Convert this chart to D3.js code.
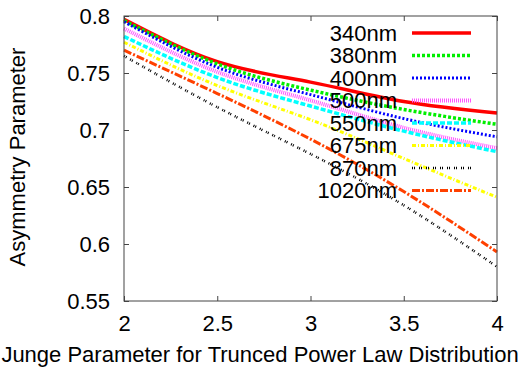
<!DOCTYPE html>
<html>
<head>
<meta charset="utf-8">
<style>
  * { margin:0; padding:0 }
  body { background:#fff; overflow:hidden; }
  svg text { font-family: "Liberation Sans", Arial, sans-serif; fill:#000; }
</style>
<script src="https://cdn.jsdelivr.net/npm/d3@7"></script>
</head>
<body>
<script>
var width = 528, height = 371;
var margin = {top: 16, right: 31, bottom: 70, left: 124};

// junge parameter
var xs = [2, 2.5, 3, 3.5, 4];
var labels = ["340nm", "380nm", "400nm", "500nm", "550nm", "675nm", "870nm", "1020nm"];
var g340  = [0.797, 0.760, 0.742, 0.725, 0.715];
var g380  = [0.796, 0.758, 0.735, 0.718, 0.705];
var g400  = [0.795, 0.755, 0.731, 0.710, 0.694];
var g500  = [0.789, 0.751, 0.726, 0.702, 0.684];
var g550  = [0.782, 0.746, 0.721, 0.699, 0.681];
var g675  = [0.777, 0.739, 0.709, 0.675, 0.641];
var g870  = [0.765, 0.720, 0.679, 0.634, 0.580];
var g1020 = [0.770, 0.732, 0.692, 0.646, 0.593];
var xTicks = [2, 2.5, 3, 3.5, 4];
var yTicks = [0.55, 0.6, 0.65, 0.7, 0.75, 0.8];

var series = [
  {name: labels[0], vals: g340,  color: "#ff0000", dash: null,      w: 3.5},
  {name: labels[1], vals: g380,  color: "#00ee00", dash: "3,2",     w: 3.5},
  {name: labels[2], vals: g400,  color: "#0000ff", dash: "2,2",     w: 3},
  {name: labels[3], vals: g500,  color: "#ff55ff", dash: "1,1",     w: 4},
  {name: labels[4], vals: g550,  color: "#00ffff", dash: "5,2",     w: 3.5},
  {name: labels[5], vals: g675,  color: "#ffff00", dash: "4,2,1,2", w: 3},
  {name: labels[6], vals: g870,  color: "#000000", dash: "1,1,1,4", w: 2.5},
  {name: labels[7], vals: g1020, color: "#ff4000", dash: "8,2,2,2", w: 3}
];

var svg = d3.select("body").append("svg")
    .attr("width", width)
    .attr("height", height);

var x = d3.scaleLinear().domain([2, 4]).range([margin.left, width - margin.right]);
var y = d3.scaleLinear().domain([0.55, 0.8]).range([height - margin.bottom, margin.top]);

var line = d3.line()
    .x(function(d, i) { return x(xs[i]); })
    .y(function(d) { return y(d); })
    .curve(d3.curveNatural);

// data lines
svg.append("g").selectAll("path")
    .data(series)
  .enter().append("path")
    .attr("d", function(d) { return line(d.vals); })
    .attr("fill", "none")
    .attr("stroke", function(d) { return d.color; })
    .attr("stroke-width", function(d) { return d.w; })
    .attr("stroke-dasharray", function(d) { return d.dash; });

// frame + ticks (inward on all sides)
var axCol = "#444";
svg.append("g")
    .attr("transform", "translate(0," + y.range()[0] + ")")
    .call(d3.axisBottom(x).tickValues(xTicks).tickSize(-5).tickPadding(14).tickFormat(d3.format("")))
    .call(function(g) { g.select(".domain").remove(); });
svg.append("g")
    .attr("transform", "translate(0," + y.range()[1] + ")")
    .call(d3.axisTop(x).tickValues(xTicks).tickSize(-5).tickFormat(""))
    .call(function(g) { g.select(".domain").remove(); });
svg.append("g")
    .attr("transform", "translate(" + x.range()[0] + ",0)")
    .call(d3.axisLeft(y).tickValues(yTicks).tickSize(-5).tickPadding(14).tickFormat(d3.format("")))
    .call(function(g) { g.select(".domain").remove(); });
svg.append("g")
    .attr("transform", "translate(" + x.range()[1] + ",0)")
    .call(d3.axisRight(y).tickValues(yTicks).tickSize(-5).tickFormat(""))
    .call(function(g) { g.select(".domain").remove(); });

svg.selectAll(".tick line").attr("stroke", axCol);
svg.selectAll(".tick text").attr("font-size", 22).attr("fill", "#000")
    .attr("font-family", "Liberation Sans, Arial, sans-serif");

svg.append("rect")
    .attr("x", x.range()[0]).attr("y", y.range()[1])
    .attr("width", x.range()[1] - x.range()[0])
    .attr("height", y.range()[0] - y.range()[1])
    .attr("fill", "none").attr("stroke", axCol).attr("stroke-width", 1);

// legend
var leg = svg.append("g").selectAll("g")
    .data(series)
  .enter().append("g")
    .attr("transform", function(d, i) { return "translate(0," + (33 + i * 22.5) + ")"; });
leg.append("text")
    .attr("x", 397).attr("dy", "0.35em")
    .attr("text-anchor", "end")
    .attr("font-size", 22)
    .text(function(d) { return d.name; });
leg.append("line")
    .attr("x1", 412).attr("x2", 471)
    .attr("stroke", function(d) { return d.color; })
    .attr("stroke-width", function(d) { return d.w; })
    .attr("stroke-dasharray", function(d) { return d.dash; });

// axis titles
svg.append("text")
    .attr("x", 260).attr("y", 362)
    .attr("text-anchor", "middle")
    .attr("font-size", 22)
    .text("Junge Parameter for Trunced Power Law Distribution");
svg.append("text")
    .attr("transform", "translate(25,157)rotate(-90)")
    .attr("text-anchor", "middle")
    .attr("font-size", 22)
    .text("Asymmetry Parameter");
</script>
</body>
</html>
